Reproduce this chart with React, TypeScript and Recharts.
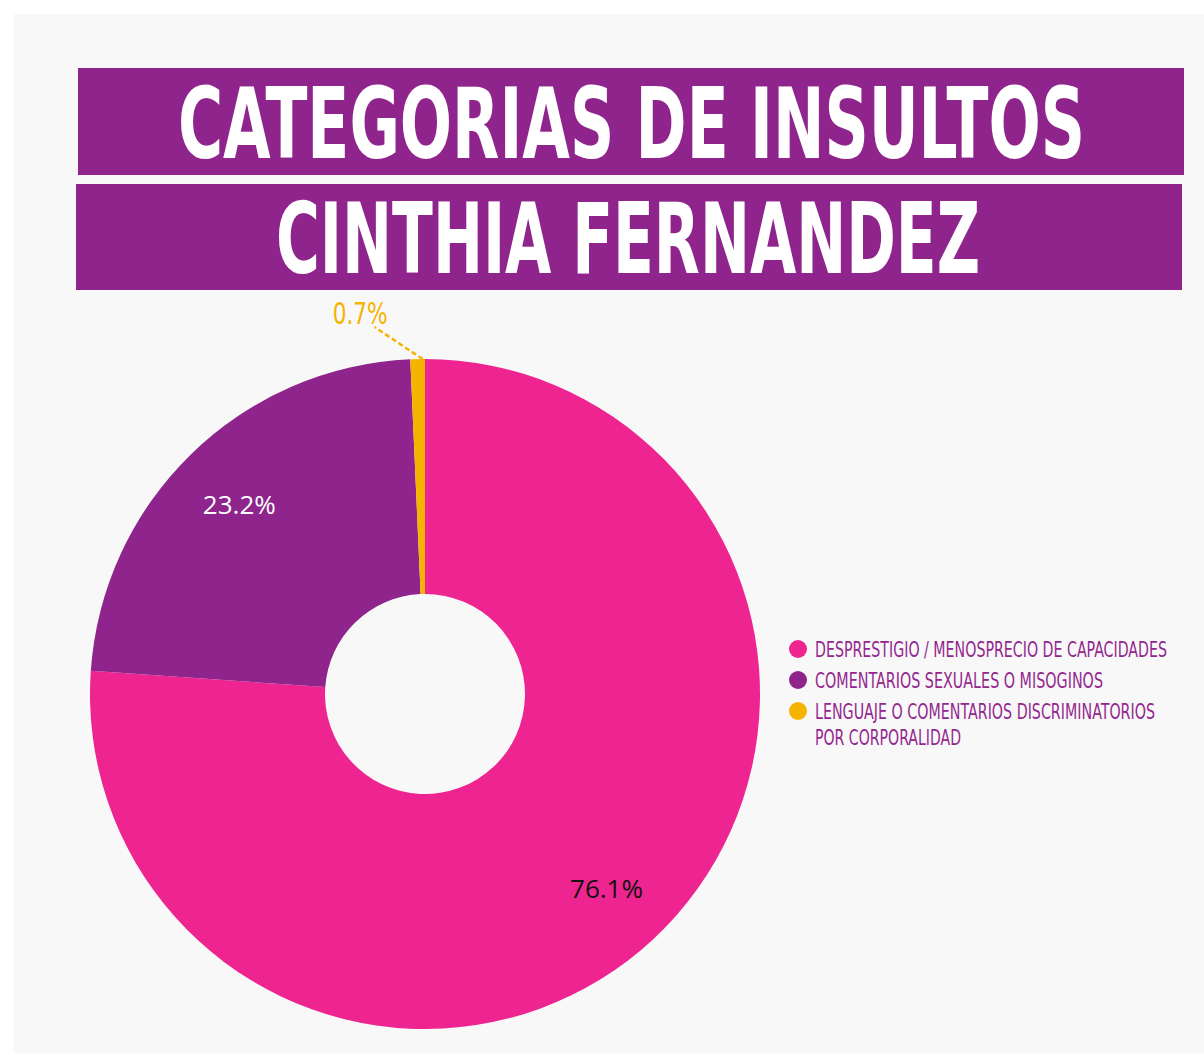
import { PieChart, Pie, Cell, Legend } from "recharts";

const categories = [
  "DESPRESTIGIO / MENOSPRECIO DE CAPACIDADES",
  "COMENTARIOS SEXUALES O MISOGINOS",
  "LENGUAJE O COMENTARIOS DISCRIMINATORIOS POR CORPORALIDAD",
];
const shares = [76.1, 23.2, 0.7];
const colors = ["#ee2490", "#8e248c", "#f6b300"];
const labelColors = ["#111111", "#ffffff", "#f6b300"];
const legendLines = [
  ["DESPRESTIGIO / MENOSPRECIO DE CAPACIDADES"],
  ["COMENTARIOS SEXUALES O MISOGINOS"],
  ["LENGUAJE O COMENTARIOS DISCRIMINATORIOS", "POR CORPORALIDAD"],
];
const legendWidths = [[352], [288], [340, 146]];

const data = categories.map((name, i) => ({ name, value: shares[i] }));

const PURPLE = "#8e248c";
const RAD = Math.PI / 180;
const COND = "'Liberation Sans Narrow', 'DejaVu Sans Condensed', sans-serif";

// tall condensed text: small font stretched vertically, squeezed to a width
const Tall = ({ x, y, size, k, w, fill, bold, children }: any) => (
  <g transform={`translate(${x},${y}) scale(1,${k})`}>
    <text x={0} y={0} fill={fill} fontFamily={COND} fontWeight={bold ? 700 : 400}
      fontSize={size} textLength={w} lengthAdjust="spacingAndGlyphs">{children}</text>
  </g>
);

const renderLabel = (p: any) => {
  const { cx, cy, midAngle, outerRadius, index, value } = p;
  const cos = Math.cos(-midAngle * RAD);
  const sin = Math.sin(-midAngle * RAD);
  const txt = `${value}%`;
  if (value < 2) {
    // small slice: dashed leader line to outside label
    const x0 = cx + outerRadius * cos + 5;
    const y0 = cy + outerRadius * sin;
    return (
      <g>
        <line x1={x0} y1={y0} x2={x0 - 48} y2={y0 - 32}
          stroke={labelColors[index]} strokeWidth={2.5} strokeDasharray="5 3" />
        <Tall x={x0 - 90} y={y0 - 35} size={22} k={1.36} w={55} fill={labelColors[index]}>{txt}</Tall>
      </g>
    );
  }
  const r = 266;
  return (
    <text x={cx + r * cos} y={cy + r * sin} fill={labelColors[index]}
      fontFamily="'Open Sans', sans-serif" fontSize={26}
      textAnchor="middle" dominantBaseline="central">{txt}</text>
  );
};

const renderLegend = () => (
  <svg width={400} height={130}>
    {legendLines.map((lines, i) => (
      <g key={i}>
        <circle cx={10} cy={13 + i * 31} r={9} fill={colors[i]} />
        {lines.map((ln, j) => (
          <Tall key={j} x={27} y={21 + i * 31 + j * 26} size={15} k={1.4}
            w={legendWidths[i][j]} fill="#93278f">{ln}</Tall>
        ))}
      </g>
    ))}
  </svg>
);

export default function App() {
  return (
    <div style={{ position: "absolute", left: 0, top: 0, width: 1204, height: 1055, background: "#ffffff" }}>
      <div style={{ position: "absolute", left: 14, top: 14, width: 1190, height: 1039, background: "#f8f8f8" }} />
      <svg style={{ position: "absolute", left: 0, top: 0 }} width={1204} height={300}>
        <rect x={78} y={68} width={1106} height={107} fill={PURPLE} />
        <rect x={76} y={184} width={1106} height={106} fill={PURPLE} />
        <Tall x={178} y={158} size={70} k={1.4} w={907} fill="#ffffff" bold>CATEGORIAS DE INSULTOS</Tall>
        <Tall x={276} y={273} size={70} k={1.39} w={704} fill="#ffffff" bold>CINTHIA FERNANDEZ</Tall>
      </svg>
      <div style={{ position: "absolute", left: 0, top: 0 }}>
        <PieChart width={1204} height={1055} margin={{ top: 0, right: 0, bottom: 0, left: 0 }}>
          <Pie data={data} dataKey="value" nameKey="name" cx={425} cy={694}
            innerRadius={100} outerRadius={335} startAngle={90} endAngle={-270}
            stroke="none" label={renderLabel} labelLine={false} isAnimationActive={false}>
            {data.map((d, i) => <Cell key={d.name} fill={colors[i]} />)}
          </Pie>
          <Legend content={renderLegend} layout="vertical"
            wrapperStyle={{ position: "absolute", left: 788, top: 636, width: 400 }} />
        </PieChart>
      </div>
    </div>
  );
}
